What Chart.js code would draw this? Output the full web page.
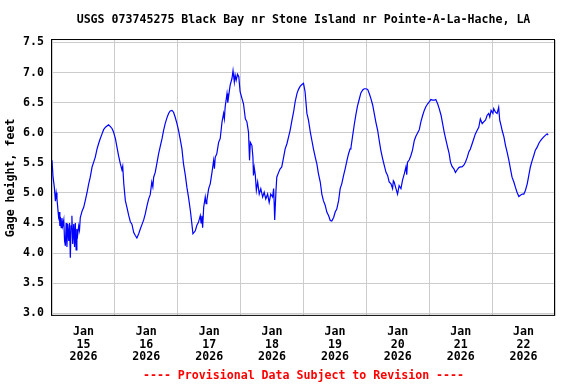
<!DOCTYPE html>
<html>
<head>
<meta charset="utf-8">
<script src="https://cdn.jsdelivr.net/npm/chart.js@4/dist/chart.umd.min.js"></script>
<style>
  body { margin: 0; background: #fff; }
  canvas { display: block; }
</style>
</head>
<body>
<canvas id="myChart" width="576" height="384"></canvas>
<script>
// hours since Jan 15 2026 00:00
const hours = [
  0.0, 0.4, 0.9, 1.3, 1.6, 1.9, 2.2, 2.5, 2.8, 3.0, 3.2, 3.5, 3.8, 4.1, 4.5, 4.8, 5.1, 5.4, 5.7, 6.0,
  6.4, 6.7, 7.0, 7.3, 7.6, 7.9, 8.3, 8.6, 8.9, 9.2, 9.5, 9.8, 10.2, 10.5, 10.8, 11.5, 12.1, 12.7, 13.4, 14.0,
  14.6, 15.3, 15.9, 16.5, 17.2, 17.8, 18.4, 19.1, 19.7, 20.4, 21.0, 21.6, 22.3, 22.9, 23.5, 24.2, 24.8, 25.4, 26.1, 26.7,
  27.0, 27.4, 28.0, 28.6, 29.3, 29.9, 30.5, 31.2, 31.8, 32.4, 33.1, 33.7, 34.4, 35.0, 35.6, 36.3, 36.9, 37.5,
  38.1, 38.5, 38.8, 39.4, 40.0, 40.7, 41.3, 42.0, 42.6, 43.2, 43.9, 44.5, 45.1, 45.8, 46.4, 47.0, 47.7, 48.3, 48.9, 49.6,
  50.2, 50.9, 51.5, 52.1, 52.8, 53.4, 53.8, 54.7, 55.3, 55.9, 56.6, 56.9, 57.2, 57.5, 57.9, 58.5, 58.8, 59.1, 59.8, 60.4,
  61.0, 61.7, 62.0, 62.3, 62.9, 63.6, 64.2, 64.9, 65.5, 65.8, 66.1, 66.8, 67.1, 67.4, 68.0, 68.7, 69.1, 69.6, 69.9, 70.3,
  70.8, 71.3, 71.8, 72.5, 73.1, 73.8, 74.4, 75.0, 75.4,
  75.7, 76.3, 76.7, 76.9, 77.2, 77.6, 78.0, 78.5, 79.1, 79.7, 80.4, 81.0, 81.6, 82.3, 82.9, 83.5, 84.2, 84.6, 84.8, 85.0,
  85.5, 85.8, 86.5, 87.1, 87.7, 88.4, 89.0, 89.7, 90.3, 90.9, 91.6, 92.2, 92.8, 93.5, 94.1, 94.7, 95.4, 96.0, 96.6, 97.3,
  97.9, 98.6, 99.2, 99.8, 100.5, 101.1, 101.7, 102.4, 103.0, 103.6, 104.3, 104.9, 105.6, 106.2, 106.8, 107.5, 108.1, 108.7, 109.4, 110.0,
  110.6, 111.3, 111.9, 112.6, 113.2, 113.8,
  114.1, 114.7, 115.4, 116.0, 116.6, 117.3, 117.9, 118.6, 119.2, 119.8, 120.5, 121.1, 121.7, 122.4, 123.0, 123.6, 124.3, 124.9, 125.5, 126.2,
  126.8, 127.5, 128.1, 128.7, 129.4, 130.0, 130.3, 130.6, 131.3, 131.9, 132.5, 133.2, 133.8, 134.5, 135.1, 135.4, 135.7, 136.4, 137.0, 137.6,
  138.3, 138.9, 139.5, 140.2, 140.8, 141.5, 142.1, 142.7, 143.4, 144.0, 144.6, 145.3, 145.9, 146.5, 147.2, 147.8, 148.5, 149.1, 149.7, 150.4,
  151.0, 151.6,
  152.1, 152.7, 153.4, 154.0, 154.6, 155.3, 155.9, 156.5, 157.2, 157.8, 158.5, 159.1, 159.7, 160.4, 161.0, 161.6, 162.3, 162.9, 163.5, 164.2,
  164.8, 165.5, 166.1, 166.7, 167.1, 167.6, 168.3, 168.6, 169.3, 169.9, 170.5, 170.9, 171.4, 171.8, 172.5, 173.1, 173.7, 174.4, 175.0, 175.6,
  176.3, 176.9, 177.5, 178.2, 178.8, 179.5, 180.1, 180.7, 181.4, 182.0, 182.6, 183.3, 183.9, 184.5, 185.2, 185.8, 186.5, 187.1, 187.7, 188.4,
  189.0, 189.4
];

// gage height, feet
const gage = [
  5.54, 5.26, 5.09, 4.86, 5.00, 4.90, 4.75, 4.60, 4.68, 4.45, 4.60, 4.42, 4.58, 4.45, 4.55, 4.20, 4.12, 4.50, 4.10, 4.48,
  4.20, 4.50, 3.92, 4.45, 4.62, 4.15, 4.48, 4.10, 4.50, 4.05, 4.40, 4.30, 4.45, 4.38, 4.59, 4.70, 4.76, 4.87, 5.01, 5.15,
  5.26, 5.43, 5.51, 5.59, 5.73, 5.82, 5.90, 5.98, 6.05, 6.09, 6.11, 6.13, 6.10, 6.07, 6.01, 5.90, 5.76, 5.62, 5.48, 5.38,
  5.44, 5.15, 4.87, 4.76, 4.62, 4.52, 4.48, 4.34, 4.29, 4.25, 4.32, 4.40, 4.48, 4.55, 4.65, 4.79, 4.90, 4.97,
  5.18, 5.10, 5.26, 5.34, 5.48, 5.65, 5.77, 5.90, 6.04, 6.15, 6.25, 6.32, 6.36, 6.37, 6.34, 6.26, 6.15, 6.04, 5.90, 5.73,
  5.48, 5.29, 5.09, 4.93, 4.71, 4.48, 4.32, 4.37, 4.46, 4.51, 4.62, 4.50, 4.62, 4.42, 4.76, 4.93, 4.82, 4.87, 5.07, 5.15,
  5.32, 5.54, 5.40, 5.59, 5.65, 5.84, 5.90, 6.18, 6.32, 6.23, 6.43, 6.65, 6.50, 6.60, 6.79, 6.90, 7.03, 6.84, 6.96, 6.87,
  6.97, 6.93, 6.68, 6.57, 6.48, 6.23, 6.18, 6.01, 5.54,
  5.84, 5.79, 5.59, 5.29, 5.42, 5.30, 5.04, 5.18, 4.98, 5.07, 4.93, 5.01, 4.90, 4.98, 4.84, 4.98, 4.93, 5.07, 4.84, 4.55,
  5.04, 5.26, 5.34, 5.40, 5.43, 5.59, 5.73, 5.82, 5.93, 6.04, 6.21, 6.34, 6.51, 6.65, 6.72, 6.77, 6.80, 6.82, 6.68, 6.32,
  6.21, 6.01, 5.87, 5.73, 5.59, 5.48, 5.32, 5.18, 4.98, 4.87, 4.79, 4.68, 4.62, 4.54, 4.53, 4.59, 4.68, 4.73, 4.87, 5.07,
  5.15, 5.29, 5.40, 5.54, 5.65, 5.73,
  5.75, 5.93, 6.14, 6.30, 6.44, 6.56, 6.66, 6.71, 6.73, 6.73, 6.72, 6.65, 6.57, 6.46, 6.32, 6.18, 6.04, 5.87, 5.71, 5.57,
  5.46, 5.34, 5.29, 5.18, 5.15, 5.07, 5.20, 5.18, 5.07, 4.98, 5.12, 5.07, 5.21, 5.32, 5.43, 5.30, 5.51, 5.55, 5.62, 5.71,
  5.87, 5.94, 5.99, 6.05, 6.18, 6.29, 6.37, 6.43, 6.48, 6.51, 6.55, 6.54, 6.54, 6.55, 6.48, 6.40, 6.29, 6.15, 6.01, 5.87,
  5.76, 5.65,
  5.51, 5.44, 5.40, 5.34, 5.38, 5.42, 5.43, 5.43, 5.46, 5.51, 5.59, 5.68, 5.73, 5.82, 5.90, 5.98, 6.04, 6.09, 6.23, 6.15,
  6.18, 6.21, 6.29, 6.32, 6.26, 6.37, 6.32, 6.40, 6.34, 6.32, 6.42, 6.21, 6.12, 6.04, 5.93, 5.79, 5.68, 5.54, 5.40, 5.26,
  5.18, 5.09, 5.01, 4.94, 4.96, 4.98, 4.98, 5.04, 5.15, 5.29, 5.43, 5.54, 5.62, 5.71, 5.76, 5.82, 5.87, 5.90, 5.93, 5.96,
  5.98, 5.96
];

// x labels sit at noon of each day, grid lines at midnight
const dayTicks = [12, 36, 60, 84, 108, 132, 156, 180];
const dayLabels = ['15', '16', '17', '18', '19', '20', '21', '22'];
const yTicks = [3.0, 3.5, 4.0, 4.5, 5.0, 5.5, 6.0, 6.5, 7.0, 7.5];

const font = { family: 'DejaVu Sans Mono', size: 11.6, weight: 'bold', lineHeight: 1.2 };

const frame = {
  id: 'frame',
  afterDatasetsDraw(chart) {
    const { ctx, chartArea: a } = chart;
    ctx.save();
    ctx.strokeStyle = '#000';
    ctx.lineWidth = 1;
    ctx.strokeRect(a.left - 0.5, a.top - 0.5, a.width, a.height);
    ctx.restore();
  }
};

const config = (data) => ({
  type: 'line',
  data: data,
  options: {
    responsive: false,
    animation: false,
    devicePixelRatio: 1,
    layout: { padding: { left: 0, right: 21, top: 0, bottom: 0 } },
    scales: {
      x: {
        type: 'linear',
        min: 0,
        max: 192,
        afterBuildTicks: (s) => { s.ticks = dayTicks.map(v => ({ value: v })); },
        afterFit: (s) => { s.height = 52.7; },
        grid: { offset: true, color: '#cccccc', drawTicks: false },
        border: { display: false },
        ticks: {
          autoSkip: false,
          maxRotation: 0,
          padding: 9.5,
          color: '#000',
          font: { ...font, lineHeight: 1.1 },
          callback: (v, i) => ['Jan', dayLabels[i], '2026']
        }
      },
      y: {
        min: 2.955,
        max: 7.54,
        afterBuildTicks: (s) => { s.ticks = yTicks.map(v => ({ value: v })); },
        afterFit: (s) => { s.width = 52; },
        grid: { color: '#cccccc', drawTicks: false },
        border: { display: false },
        ticks: { padding: 8, color: '#000', font, callback: (v) => v.toFixed(1) },
        title: { display: true, text: 'Gage height, feet', color: '#000', font, padding: { top: 4.5, bottom: 0 } }
      }
    },
    plugins: {
      legend: { display: false },
      tooltip: { enabled: false },
      title: {
        display: true,
        fullSize: false,
        text: 'USGS 073745275 Black Bay nr Stone Island nr Pointe-A-La-Hache, LA',
        color: '#000',
        font,
        padding: { top: 13.2, bottom: 12.9 }
      },
      subtitle: {
        display: true,
        fullSize: false,
        position: 'bottom',
        text: '---- Provisional Data Subject to Revision ----',
        color: '#ff0000',
        font,
        padding: { top: 0, bottom: 1.5 }
      }
    }
  },
  plugins: [frame]
});

function init(ctx) {
  const points = hours.map((h, i) => ({ x: h, y: gage[i] }));
  const datasets = [{
    label: 'Gage height',
    data: points,
    borderColor: '#0000ff',
    borderWidth: 1.2,
    pointRadius: 0,
    tension: 0,
    fill: false
  }];
  new Chart(ctx, config({ datasets }));
}

init(document.getElementById('myChart'));
</script>
</body>
</html>
